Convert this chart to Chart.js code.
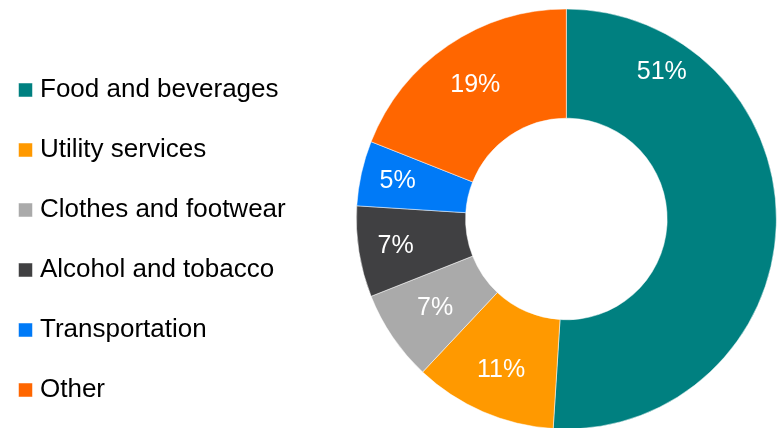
<!DOCTYPE html>
<html>
<head>
<meta charset="utf-8">
<script src="https://cdn.jsdelivr.net/npm/chart.js@4"></script>
<style>
  html, body { margin: 0; background: #fff; overflow: hidden; }
  #wrap { width: 779px; height: 428px; overflow: hidden; }
</style>
</head>
<body>
<div id="wrap"><canvas id="spendChart" width="837" height="438"></canvas></div>
<script>
// Spending shares (%)
const categories = ['Food and beverages', 'Utility services', 'Clothes and footwear',
                    'Alcohol and tobacco', 'Transportation', 'Other'];
const shares = [51, 11, 7, 7, 5, 19];
const sliceColors = ['#008080', '#FF9900', '#AAAAAA', '#404042', '#007AF7', '#FF6600'];

// draws the white percentage labels inside each slice
const sliceLabels = {
    id: 'sliceLabels',
    afterDatasetsDraw(chart, args, opts) {
        const ctx = chart.ctx;
        const meta = chart.getDatasetMeta(0);
        ctx.save();
        ctx.fillStyle = opts.color;
        ctx.font = opts.font;
        ctx.textAlign = 'center';
        ctx.textBaseline = 'middle';
        meta.data.forEach((arc, i) => {
            const p = arc.getProps(['x', 'y', 'startAngle', 'endAngle', 'innerRadius', 'outerRadius'], true);
            const a = p.startAngle + (p.endAngle - p.startAngle) * opts.angleFrac[i];
            const r = p.innerRadius + (p.outerRadius - p.innerRadius) * opts.radialFrac[i];
            ctx.fillText(shares[i] + '%', p.x + Math.cos(a) * r, p.y + Math.sin(a) * r);
        });
        ctx.restore();
    }
};

const ctx = document.getElementById('spendChart').getContext('2d');
const spendChart = new Chart(ctx, {
    type: 'doughnut',
    data: {
        labels: categories,
        datasets: [{
            data: shares,
            backgroundColor: sliceColors,
            borderColor: '#ffffff',
            borderWidth: 0.5,
            radius: 210,
            cutout: 105
        }]
    },
    options: {
        responsive: false,
        animation: false,
        layout: {
            padding: { top: 0, bottom: 0, left: -10, right: 0 }
        },
        plugins: {
            legend: {
                position: 'left',
                align: 'start',
                title: {
                    display: true,
                    text: '',
                    font: { size: 10, lineHeight: 1.2 },
                    padding: { top: 15.5, bottom: 15.5 }
                },
                labels: {
                    usePointStyle: true,
                    pointStyle: 'rect',
                    boxWidth: 3,
                    boxHeight: 14,
                    padding: 34,
                    color: '#000000',
                    font: { family: "'Liberation Sans', Arial, sans-serif", size: 26 }
                }
            },
            tooltip: { enabled: false },
            sliceLabels: {
                color: '#ffffff',
                font: "25px 'Liberation Sans', Arial, sans-serif",
                angleFrac: [0.18, 0.5, 0.5, 0.5, 0.5, 0.5],
                radialFrac: [0.68, 0.58, 0.53, 0.66, 0.66, 0.56]
            }
        }
    },
    plugins: [sliceLabels]
});
</script>
</body>
</html>
